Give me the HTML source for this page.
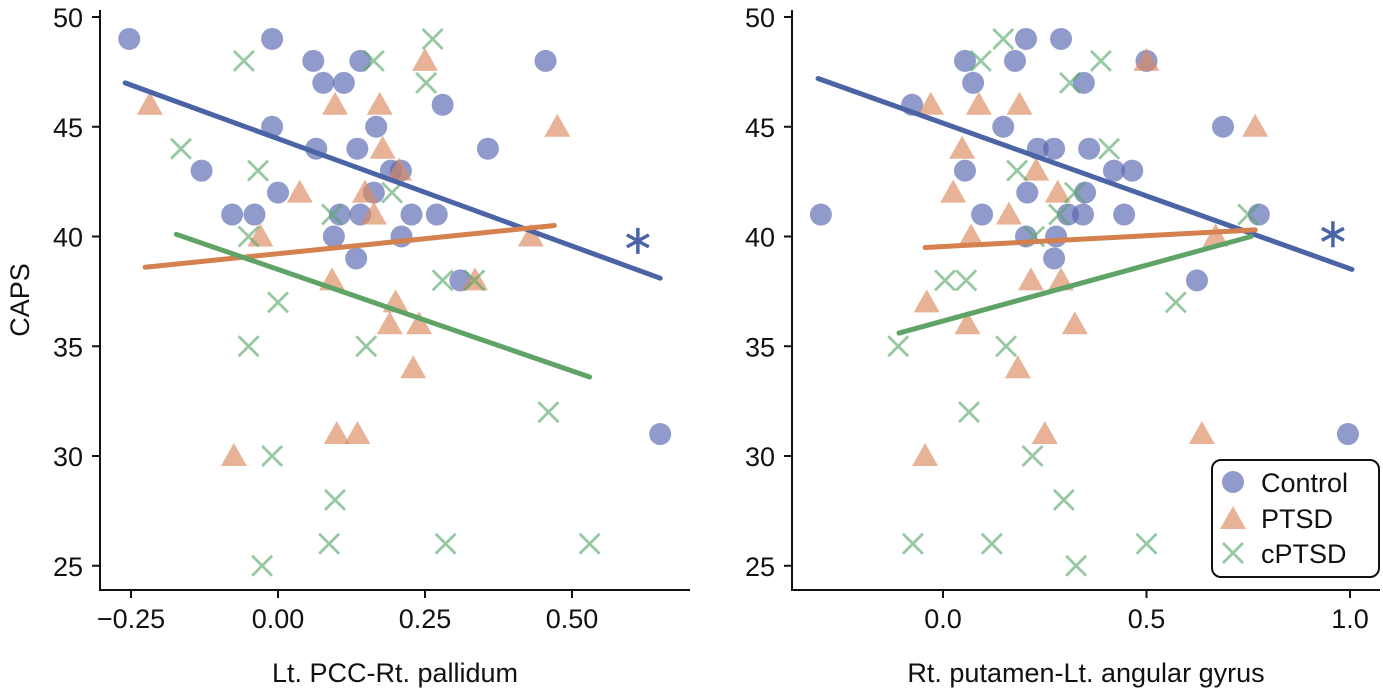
<!DOCTYPE html>
<html><head><meta charset="utf-8">
<style>
body{margin:0;background:#fff;}
svg text{font-family:"Liberation Sans",sans-serif;fill:#111;}
</style></head>
<body>
<svg id="chart" width="1383" height="691" xmlns="http://www.w3.org/2000/svg"></svg>
<script>
// ---- Left panel data ----
const leftControlX=[-0.253,-0.01,0.06,0.14,0.455,0.077,0.112,0.28,-0.01,0.167,0.065,0.135,0.357,-0.13,0.192,0.209,0.0,0.163,-0.078,-0.04,0.105,0.14,0.227,0.27,0.095,0.21,0.133,0.31,0.65];
const leftControlY=[49,49,48,48,48,47,47,46,45,45,44,44,44,43,43,43,42,42,41,41,41,41,41,41,40,40,39,38,31];
const leftPtsdX=[-0.218,0.097,0.173,0.25,0.475,0.178,0.206,0.037,0.148,0.163,-0.03,0.43,0.092,0.335,0.2,0.19,0.24,0.23,0.1,0.135,-0.075];
const leftPtsdY=[46,46,46,48,45,44,43,42,42,41,40,40,38,38,37,36,36,34,31,31,30];
const leftCptsdX=[0.263,-0.058,0.163,0.252,-0.165,-0.034,0.194,0.092,-0.05,0.28,0.334,0.0,-0.05,0.15,0.46,-0.01,0.097,0.087,0.285,0.53,-0.027];
const leftCptsdY=[49,48,48,47,44,43,42,41,40,38,38,37,35,35,32,30,28,26,26,26,25];
const leftFitControl=[[-0.26,47],[0.65,38.1]];
const leftFitPtsd=[[-0.226,38.6],[0.47,40.5]];
const leftFitCptsd=[[-0.173,40.1],[0.53,33.6]];
const leftStar=[0.612,39.8];
const leftXTicks=[-0.25,0,0.25,0.5];
const leftXTickLabels=["\u22120.25","0.00","0.25","0.50"];
// ---- Right panel data ----
const rightControlX=[-0.30,-0.076,0.054,0.074,0.177,0.204,0.29,0.346,0.5,0.148,0.688,0.233,0.273,0.359,0.42,0.465,0.054,0.207,0.349,0.096,0.307,0.344,0.445,0.776,0.204,0.278,0.273,0.624,0.995];
const rightControlY=[41,46,48,47,48,49,49,47,48,45,45,44,44,44,43,43,43,42,42,41,41,41,41,41,40,40,39,38,31];
const rightPtsdX=[-0.03,0.088,0.188,0.5,0.767,0.047,0.229,0.025,0.282,0.162,0.069,0.67,0.216,0.29,-0.04,0.06,0.324,0.184,0.25,0.636,-0.044];
const rightPtsdY=[46,46,46,48,45,44,43,42,42,41,40,40,38,38,37,36,36,34,31,31,30];
const rightCptsdX=[0.148,0.093,0.388,0.312,0.408,0.182,0.324,0.285,0.75,0.224,0.005,0.057,0.572,-0.11,0.155,0.064,0.22,0.297,-0.074,0.12,0.5,0.327];
const rightCptsdY=[49,48,48,47,44,43,42,41,41,40,38,38,37,35,35,32,30,28,26,26,26,25];
const rightFitControl=[[-0.307,47.2],[1.005,38.5]];
const rightFitPtsd=[[-0.044,39.5],[0.767,40.3]];
const rightFitCptsd=[[-0.108,35.6],[0.757,40.0]];
const rightStar=[0.958,40.1];
const rightXTicks=[0,0.5,1.0];
const rightXTickLabels=["0.0","0.5","1.0"];
const yTicks=[25,30,35,40,45,50];

const NS="http://www.w3.org/2000/svg";
const svg=document.getElementById('chart');
function mk(tag,attrs,parent){const e=document.createElementNS(NS,tag);for(const k in attrs)e.setAttribute(k,attrs[k]);(parent||svg).appendChild(e);return e;}
const yScale=v=>17+(50-v)*21.95;
const C_BLUE="#5766b0",C_ORANGE="#db8a5e",C_GREEN="#55a868";
const L_BLUE="#4a64a6",L_ORANGE="#d4814f",L_GREEN="#5fa466";

function circle(g,x,y){const c=mk('circle',{cx:x,cy:y,r:11,fill:C_BLUE,'fill-opacity':0.66},g);

}
function tri(g,x,y){const p=mk('polygon',{points:`${x},${y-13} ${x-13},${y+10} ${x+13},${y+10}`,fill:C_ORANGE,'fill-opacity':0.66},g);

}
function cross(g,x,y){const p=mk('path',{d:`M${x-10},${y-10}L${x+10},${y+10}M${x-10},${y+10}L${x+10},${y-10}`,stroke:C_GREEN,'stroke-opacity':0.62,'stroke-width':2.8},g);

}
function star(g,x,y){const p=mk('path',{d:`M${x},${y-13}L${x},${y+13}M${x-11},${y-6}L${x+11},${y+6}M${x-11},${y+6}L${x+11},${y-6}`,stroke:L_BLUE,'stroke-width':3.5},g);

}

function panel(opts){
  const g=mk('g',{});
  
  
  const xs=v=>opts.x0+v*opts.k;
  const ax=mk('path',{d:`M${opts.left},10L${opts.left},590L${opts.right},590`,stroke:'#111',fill:'none','stroke-width':2},g);
  
  
  yTicks.forEach(t=>{
    mk('line',{x1:opts.left-8,x2:opts.left,y1:yScale(t),y2:yScale(t),stroke:'#111','stroke-width':2},g);
    const tx=mk('text',{x:opts.left-17,y:yScale(t)+10,'text-anchor':'end','font-size':27},g);
    tx.textContent=t;
    
    
  });
  opts.xt.forEach((t,i)=>{
    mk('line',{x1:xs(t),x2:xs(t),y1:590,y2:598,stroke:'#111','stroke-width':2},g);
    const tx=mk('text',{x:xs(t),y:628,'text-anchor':'middle','font-size':27},g);
    tx.textContent=opts.xl[i];
    
    
  });
  const xt=mk('text',{x:(opts.left+opts.right)/2,y:682,'text-anchor':'middle','font-size':27},g);
  xt.textContent=opts.title;
  
  
  opts.cx.forEach((v,i)=>circle(g,xs(v),yScale(opts.cy[i])));
  opts.px.forEach((v,i)=>tri(g,xs(v),yScale(opts.py[i])));
  opts.gx.forEach((v,i)=>cross(g,xs(v),yScale(opts.gy[i])));
  [[opts.fc,L_BLUE,'control-fit-line'],[opts.fp,L_ORANGE,'ptsd-fit-line'],[opts.fg,L_GREEN,'cptsd-fit-line']].forEach(([f,col,n])=>{
    const l=mk('line',{x1:xs(f[0][0]),y1:yScale(f[0][1]),x2:xs(f[1][0]),y2:yScale(f[1][1]),stroke:col,'stroke-width':5,'stroke-linecap':'round'},g);
    
    
  });
  star(g,xs(opts.st[0]),yScale(opts.st[1]));
}
panel({name:'left-panel-pcc-pallidum',left:100,right:690,x0:278,k:588,xt:leftXTicks,xl:leftXTickLabels,title:'Lt. PCC-Rt. pallidum',
  cx:leftControlX,cy:leftControlY,px:leftPtsdX,py:leftPtsdY,gx:leftCptsdX,gy:leftCptsdY,fc:leftFitControl,fp:leftFitPtsd,fg:leftFitCptsd,st:leftStar});
panel({name:'right-panel-putamen-angular',left:792,right:1380,x0:943,k:407,xt:rightXTicks,xl:rightXTickLabels,title:'Rt. putamen-Lt. angular gyrus',
  cx:rightControlX,cy:rightControlY,px:rightPtsdX,py:rightPtsdY,gx:rightCptsdX,gy:rightCptsdY,fc:rightFitControl,fp:rightFitPtsd,fg:rightFitCptsd,st:rightStar});
const yt=mk('text',{x:0,y:0,'text-anchor':'middle','font-size':27,transform:'translate(29,300) rotate(-90)'});
yt.textContent='CAPS';


const lg=mk('g',{});


mk('rect',{x:1212,y:460,width:167,height:117,rx:9,fill:'#fff',stroke:'#111','stroke-width':2},lg);
circle(lg,1233,482);
tri(lg,1233,519);
cross(lg,1233,553);
[['Control',492],['PTSD',528],['cPTSD',563]].forEach(([t,y])=>{
  const tx=mk('text',{x:1261,y:y,'font-size':27},lg);
  tx.textContent=t;
  
  
});
</script>
</body></html>
